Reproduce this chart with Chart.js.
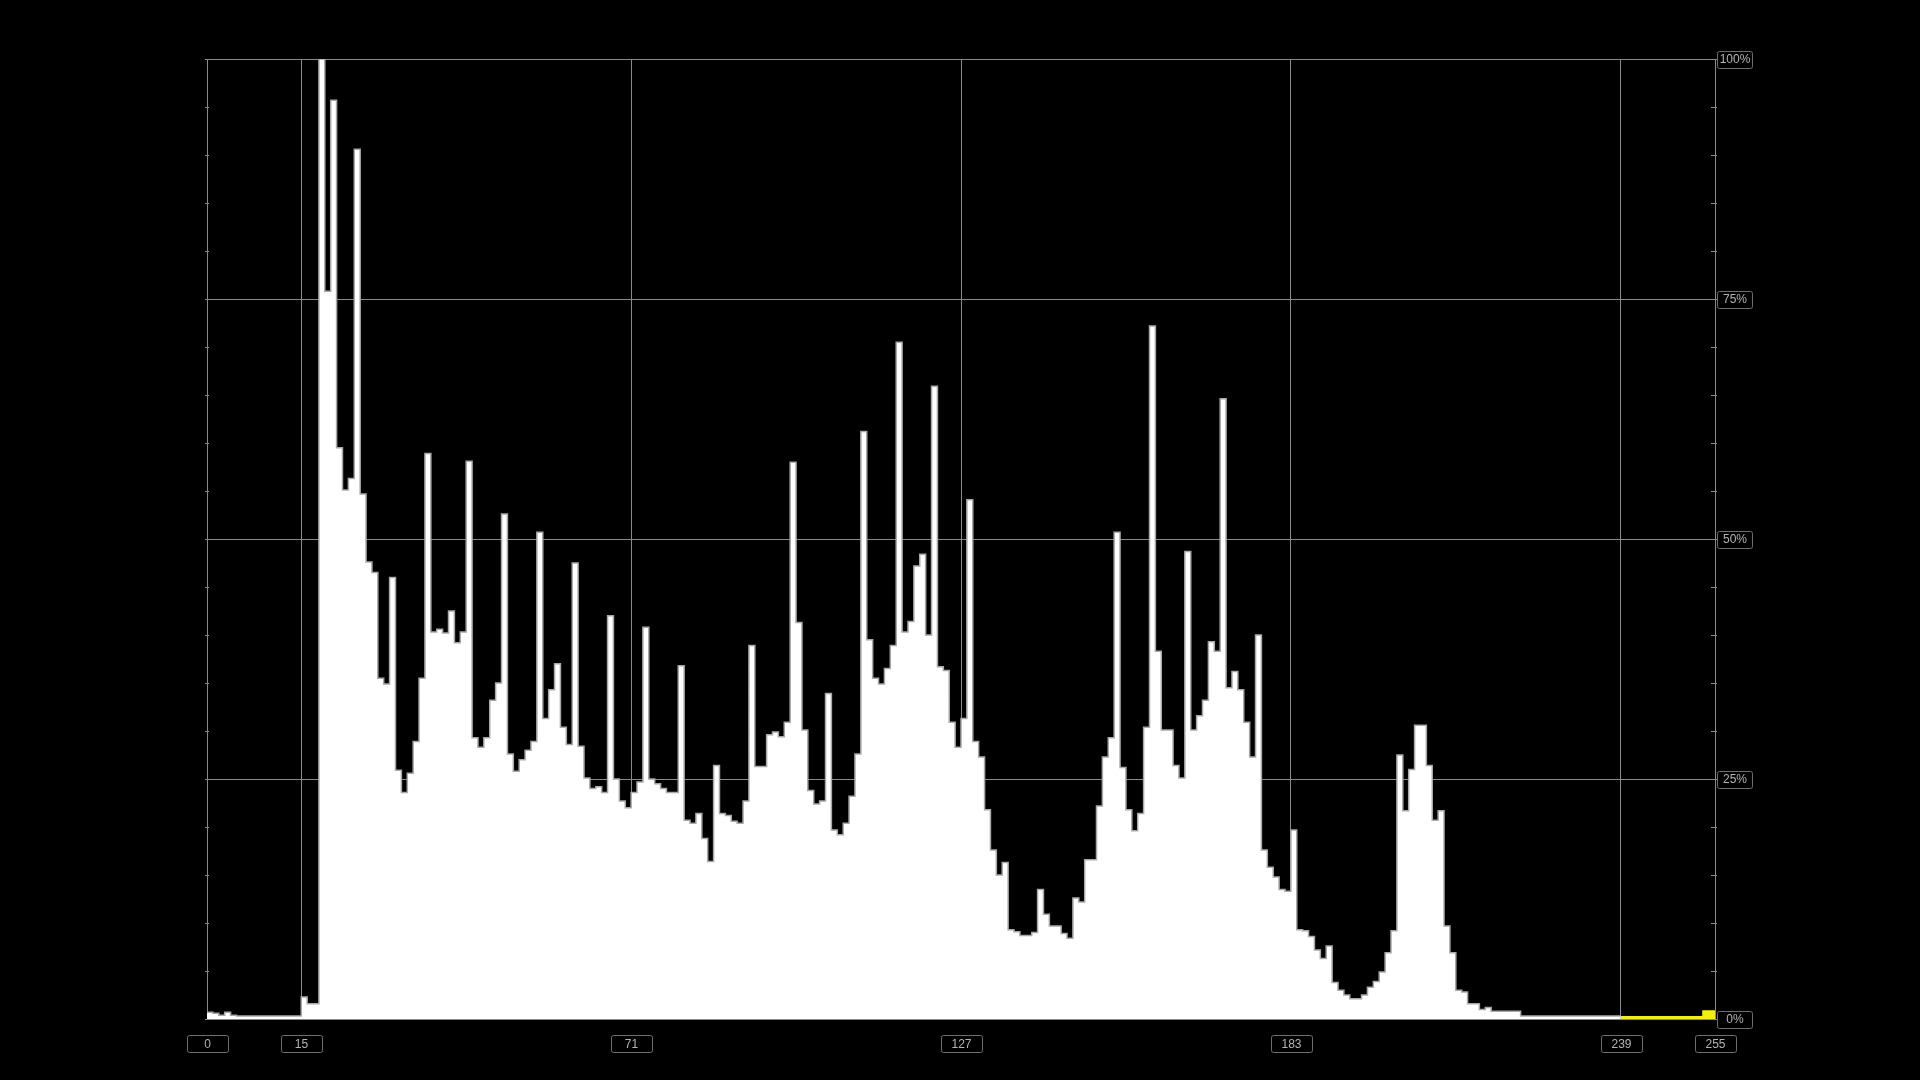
<!DOCTYPE html>
<html>
<head>
<meta charset="utf-8">
<title>Luma histogram</title>
<script src="https://cdn.jsdelivr.net/npm/chart.js@4.4.1/dist/chart.umd.min.js"></script>
<style>
    html, body { margin: 0; padding: 0; background: #000; }
    #histChart { display: block; }
</style>
</head>
<body>
<canvas id="histChart" width="1920" height="1080"></canvas>
<script>
// Histogram values, percent of the tallest bin, one entry per code value 0..255
const histogramPct = [
    0.7, 0.6, 0.4, 0.7, 0.4, 0.3, 0.3, 0.3, 0.3, 0.3, 0.3, 0.3, 0.3, 0.3, 0.3, 0.3,
    2.3, 1.6, 1.6, 100, 75.8, 95.7, 59.5, 55.1, 56.3, 90.6, 54.7, 47.6, 46.5, 35.5, 34.9, 46.0,
    25.9, 23.6, 25.6, 28.9, 35.5, 58.9, 40.3, 40.6, 40.2, 42.5, 39.2, 40.3, 58.1, 29.3, 28.3, 29.3,
    33.2, 35.0, 52.6, 27.6, 25.8, 27.0, 28.0, 28.9, 50.7, 31.3, 34.3, 37.0, 30.4, 28.6, 47.5, 28.4,
    25.1, 24.0, 24.2, 23.6, 42.0, 25.0, 22.7, 22.0, 23.6, 24.7, 40.8, 25.0, 24.5, 24.0, 23.6, 23.6,
    36.8, 20.7, 20.4, 21.4, 18.8, 16.4, 26.4, 21.4, 21.2, 20.6, 20.4, 22.7, 38.9, 26.3, 26.3, 29.6,
    29.9, 29.4, 30.9, 58.0, 41.3, 30.1, 23.8, 22.4, 22.7, 33.9, 19.7, 19.2, 20.4, 23.2, 27.6, 61.2,
    39.5, 35.5, 34.9, 36.5, 38.9, 70.5, 40.3, 41.4, 47.2, 48.4, 40.0, 65.9, 36.7, 36.3, 30.9, 28.3,
    31.3, 54.1, 28.9, 27.3, 21.8, 17.6, 15.0, 16.3, 9.3, 9.1, 8.7, 8.7, 9.0, 13.5, 10.9, 9.7,
    9.7, 8.9, 8.4, 12.6, 12.2, 16.6, 16.6, 22.2, 27.3, 29.3, 50.7, 26.2, 21.8, 19.6, 21.4, 30.4,
    72.2, 38.3, 30.1, 30.1, 26.4, 25.1, 48.7, 30.1, 31.6, 33.2, 39.3, 38.3, 64.6, 34.5, 36.2, 34.3,
    30.9, 27.3, 40.0, 17.6, 15.8, 14.8, 13.5, 13.3, 19.7, 9.3, 9.2, 8.6, 7.2, 6.3, 7.6, 3.8,
    3.0, 2.5, 2.1, 2.1, 2.5, 3.3, 3.9, 4.9, 6.9, 9.2, 27.5, 21.7, 26.0, 30.6, 30.6, 26.4,
    20.7, 21.7, 9.7, 6.9, 3.0, 2.8, 1.6, 1.6, 1.0, 1.2, 0.8, 0.8, 0.8, 0.8, 0.8, 0.3,
    0.3, 0.3, 0.3, 0.3, 0.3, 0.3, 0.3, 0.3, 0.3, 0.3, 0.3, 0.3, 0.3, 0.3, 0.3, 0.3,
    0.2, 0.2, 0.2, 0.2, 0.2, 0.2, 0.2, 0.2, 0.2, 0.2, 0.2, 0.2, 0.2, 0.2, 0.8, 0.8
];

// Code values shown under the x axis, and the percent marks on the right
const xTickLabels = [0, 15, 71, 127, 183, 239, 255];
const yTickValues = [0, 25, 50, 75, 100];
const yMinorStep = 5;

// Bins from here up are drawn in the highlight (clipping) colour
const clipStart = 240;

const BIN_COUNT = histogramPct.length;

/**
 * Turn a run of bins into stepped points; the extra last point closes the final bin
 */
function stepPoints(from, to) {
    const pts = [];
    for (let i = from; i < to; i++) {
        pts.push({ x: i, y: histogramPct[i] });
    }
    pts.push({ x: to, y: histogramPct[to - 1] });
    return pts;
}

// Grid line for label L sits on the right edge of bin L (0 sits on the left edge)
function edgeFor(label) {
    return label === 0 ? 0 : label + 1;
}

const GRID = '#8a8a8a';
const LABEL_FONT = '12px "Liberation Sans", Arial, sans-serif';

const frameDecor = {
    id: 'frameDecor',
    afterDraw(chart) {
        const { ctx, chartArea, scales } = chart;
        const xs = scales.x;
        const ys = scales.y;

        ctx.save();
        ctx.strokeStyle = GRID;
        ctx.lineWidth = 1;

        // small ticks on both vertical edges
        ctx.beginPath();
        for (let v = 0; v <= 100; v += yMinorStep) {
            const py = Math.round(ys.getPixelForValue(v)) + 0.5;
            ctx.moveTo(chartArea.left - 2, py);
            ctx.lineTo(chartArea.left + 2, py);
            ctx.moveTo(chartArea.right - 4, py);
            ctx.lineTo(chartArea.right + 2, py);
        }
        ctx.stroke();

        ctx.font = LABEL_FONT;
        ctx.textAlign = 'center';
        ctx.textBaseline = 'middle';

        // percent boxes to the right of the plot
        yTickValues.forEach(v => {
            const py = Math.round(ys.getPixelForValue(v));
            const bx = Math.round(chartArea.right) + 2.5;
            const by = py - 8 + 0.5;
            ctx.strokeStyle = '#6e6e6e';
            ctx.beginPath();
            ctx.roundRect(bx, by, 35, 17, 2);
            ctx.stroke();
            ctx.fillStyle = '#b4b4b4';
            ctx.fillText(v + '%', bx + 17.5, py + 1);
        });

        // code value boxes below the plot
        xTickLabels.forEach(label => {
            const px = Math.round(xs.getPixelForValue(edgeFor(label)));
            const bx = px - 20 + 0.5;
            const by = Math.round(chartArea.bottom) + 16.5;
            ctx.strokeStyle = '#6e6e6e';
            ctx.beginPath();
            ctx.roundRect(bx, by, 41, 17, 2);
            ctx.stroke();
            ctx.fillStyle = '#b4b4b4';
            ctx.fillText(String(label), px + 0.5, by + 9);
        });

        ctx.restore();
    }
};

const ctx = document.getElementById('histChart').getContext('2d');
const chart = new Chart(ctx, {
    type: 'line',
    data: {
        datasets: [
            {
                label: 'Luma',
                data: stepPoints(0, clipStart),
                stepped: 'before',
                borderColor: '#a8a8a8',
                borderWidth: 1.5,
                backgroundColor: '#ffffff',
                fill: 'origin',
                pointRadius: 0
            },
            {
                label: 'Clipped',
                data: stepPoints(clipStart, BIN_COUNT),
                stepped: 'before',
                borderColor: '#f2f200',
                borderWidth: 2,
                backgroundColor: '#f2f200',
                fill: 'origin',
                pointRadius: 0
            }
        ]
    },
    options: {
        responsive: false,
        animation: false,
        events: [],
        layout: {
            padding: { left: 207, right: 205, top: 59, bottom: 61 }
        },
        plugins: {
            legend: { display: false },
            tooltip: { enabled: false }
        },
        scales: {
            x: {
                type: 'linear',
                min: 0,
                max: BIN_COUNT,
                afterBuildTicks: scale => {
                    scale.ticks = xTickLabels.map(l => ({ value: edgeFor(l) }));
                },
                ticks: { display: false },
                border: { display: false },
                grid: { color: GRID, lineWidth: 1, drawTicks: false }
            },
            y: {
                min: 0,
                max: 100,
                ticks: { display: false, stepSize: 25 },
                border: { display: false },
                grid: { color: GRID, lineWidth: 1, drawTicks: false }
            }
        }
    },
    plugins: [frameDecor]
});
</script>
</body>
</html>
